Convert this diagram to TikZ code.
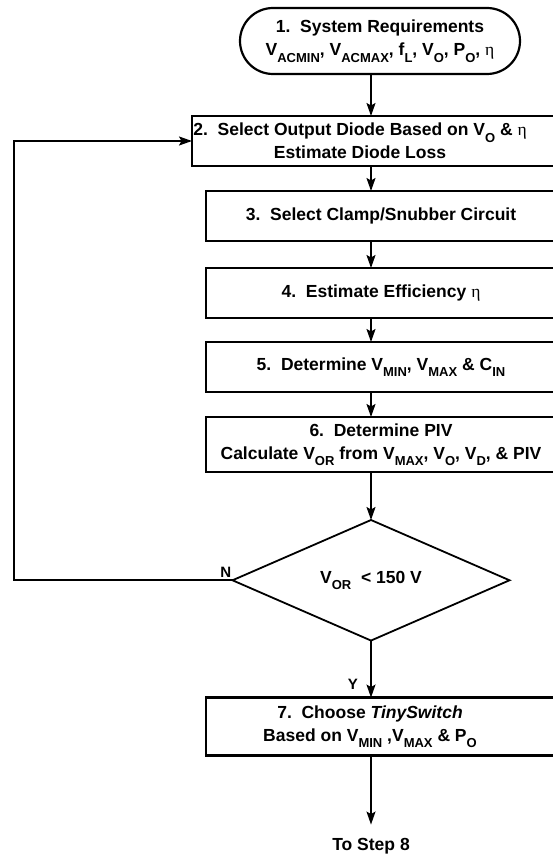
\documentclass[tikz,border=0pt]{standalone}
\usepackage{fontspec}
\setmainfont{Liberation Sans}
\newfontfamily\grk{Liberation Serif}
\usetikzlibrary{arrows.meta,positioning,shapes.geometric,shapes.misc}
\newcommand\lowr[1]{\raisebox{-6.5pt}{\fontsize{13}{13}\selectfont #1}}
\newcommand\eeta{{\grk\mdseries η}}

\begin{document}
\begin{tikzpicture}[x=1pt,y=-1pt,font=\bfseries\fontsize{17.5}{23}\selectfont,
 term/.style={draw,line width=2.2pt,rounded rectangle,minimum width=280pt,minimum height=66pt,align=center,inner sep=0pt,outer sep=0pt},
 box/.style={draw,line width=2.2pt,minimum width=350pt,minimum height=50pt,align=center,inner sep=0pt,outer sep=0pt},
 dec/.style={draw,line width=1.8pt,diamond,minimum width=277pt,minimum height=119pt,inner sep=0pt,outer sep=0pt},
 txt/.style={align=center,inner sep=0pt},
 lbl/.style={inner sep=1pt,font=\bfseries\fontsize{15}{15}\selectfont},
 arr/.style={-{Stealth[length=13pt,width=9pt,inset=2.5pt]},line width=1.6pt}]
\clip (0,0) rectangle (553,856);
\node[term] (req) at (380,41) {1.\ \ System Requirements\\V\lowr{ACMIN}, V\lowr{ACMAX}, f\lowr{L}, V\lowr{O}, P\lowr{O}, \eeta};
\node[box,minimum width=364pt,below=42pt of req,xshift=-6pt] (diode) {};
\node[txt] (diodet) at ([xshift=-14pt]diode.center) {2.\ \ Select Output Diode Based on V\lowr{O} \& \eeta\\Estimate Diode Loss};
\node[box,below=25pt of diode,xshift=7pt] (clamp) {3.\ \ Select Clamp/Snubber Circuit};
\node[box,below=27pt of clamp] (eff) {4.\ \ Estimate Efficiency \eeta};
\node[box,below=24pt of eff] (vmin) {5.\ \ Determine V\lowr{MIN}, V\lowr{MAX} \& C\lowr{IN}};
\node[box,minimum height=55pt,below=25pt of vmin] (piv) {6.\ \ Determine PIV\\Calculate V\lowr{OR} from V\lowr{MAX}, V\lowr{O}, V\lowr{D}, \& PIV};
\node[dec,below=48pt of piv,xshift=-10pt] (vor) {V\lowr{OR}\ \ < 150 V};
\node[box,minimum height=58pt,below=57pt of vor,xshift=10pt] (sw) {};
\node[txt] (swt) at ([xshift=-11pt]sw.center) {7.\ \ Choose \textit{TinySwitch}\\Based on V\lowr{MIN} ,V\lowr{MAX} \& P\lowr{O}};
\coordinate[below=69pt of sw.south,xshift=-10pt] (stop);
\node[txt,below=14pt of stop] (next) {To Step 8};
\coordinate[left=218.5pt of vor.west] (fb);
\node[lbl,above left=2pt and 0pt of vor.west] (no) {N};
\node[lbl,below left=37pt and 12pt of vor.south] (yes) {Y};
% main flow
\draw[arr] (req.south -| vor) -- (diode.north -| vor);
\draw[arr] (diode.south -| vor) -- (clamp.north -| vor);
\draw[arr] (clamp.south -| vor) -- (eff.north -| vor);
\draw[arr] (eff.south -| vor) -- (vmin.north -| vor);
\draw[arr] (vmin.south -| vor) -- (piv.north -| vor);
\draw[arr] (piv.south -| vor) -- (vor.north);
\draw[arr] (vor.south) -- (sw.north -| vor);
\draw[arr] (sw.south -| vor) -- (stop);
% loop back
\draw[arr] (vor.west) -- (fb) |- (diode.west);
\end{tikzpicture}
\end{document}
